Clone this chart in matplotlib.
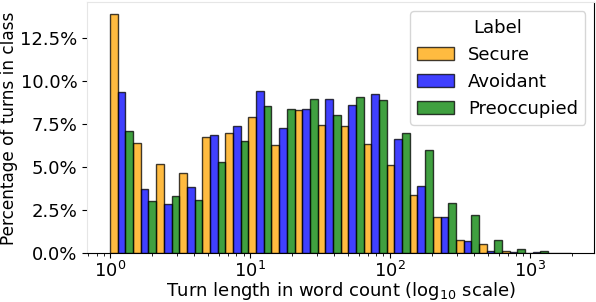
import numpy as np
import matplotlib
matplotlib.use("Agg")
import matplotlib.pyplot as plt
from matplotlib.patches import Patch
from matplotlib.ticker import PercentFormatter

# share of turns (%) per log-spaced length bin, one list per class
labels = ["Secure", "Avoidant", "Preoccupied"]
colors = ["orange", "blue", "green"]
secure = [13.85, 6.37, 5.17, 4.67, 6.77, 6.96, 7.90, 6.29, 8.29, 7.42,
          7.37, 6.33, 5.14, 3.39, 2.13, 0.76, 0.52, 0.15, 0.02, 0.0]
avoidant = [9.35, 3.73, 2.87, 3.85, 6.85, 7.39, 9.39, 7.29, 8.39, 8.94,
            8.58, 9.21, 6.64, 3.92, 2.13, 0.74, 0.15, 0.08, 0.08, 0.0]
preoccupied = [7.10, 3.04, 3.35, 3.12, 5.31, 6.52, 8.52, 8.39, 8.92, 8.00,
               9.04, 8.89, 6.96, 5.98, 2.94, 2.23, 0.79, 0.23, 0.15, 0.05]
min_len, max_len = 1, 1980
n_bins = len(secure)

plt.rcParams["font.family"] = ["DejaVu Sans"]
plt.rcParams["font.size"] = 13

fig = plt.figure(figsize=(5.96, 3.02), dpi=100)
ax = fig.add_axes([0.146, 0.161, 0.851, 0.831])

# dodge the three classes inside each log bin (like sns.histplot multiple="dodge")
edges = np.linspace(np.log10(min_len), np.log10(max_len), n_bins + 1)
w = (edges[1] - edges[0]) / len(labels)
for k, (vals, c) in enumerate(zip([secure, avoidant, preoccupied], colors)):
    lo = 10 ** (edges[:-1] + k * w)
    hi = 10 ** (edges[:-1] + (k + 1) * w)
    ax.bar(lo, vals, width=hi - lo, align="edge", color=c, alpha=0.75,
           edgecolor="black", linewidth=1)

ax.set_xscale("log")
ax.yaxis.set_major_formatter(PercentFormatter(decimals=1))
ax.set_yticks([0, 2.5, 5, 7.5, 10, 12.5])
ax.tick_params(axis="x", pad=2)
ax.set_ylabel("Percentage of turns in class", fontsize=12.2, labelpad=1.5)
ax.set_xlabel("Turn length in word count (log$_{10}$ scale)", labelpad=-1)

for s in ["left", "top"]:
    ax.spines[s].set_color("0.9")
for s in ["right", "bottom"]:
    ax.spines[s].set_color("black")

handles = [Patch(facecolor=c, alpha=0.75, edgecolor="black", linewidth=1)
           for c in colors]
ax.legend(handles, labels, title="Label", loc="upper right",
          fontsize=13, title_fontsize=13)

fig.savefig("out.png", dpi=100)
